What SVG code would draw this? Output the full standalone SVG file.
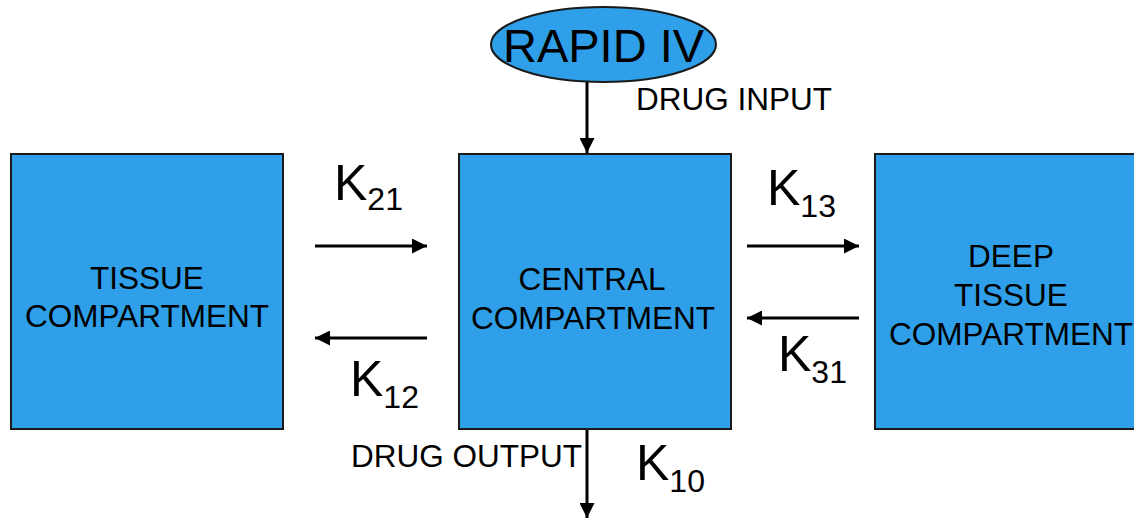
<svg xmlns="http://www.w3.org/2000/svg" width="1134" height="518" viewBox="0 0 1134 518">
<style>
.box{fill:#2E9FE8;stroke:#1a1a1a;stroke-width:2}
.t{font-family:"Liberation Sans",Arial,sans-serif;font-size:31.5px;fill:#000}
.k{font-family:"Liberation Sans",Arial,sans-serif;font-size:50px;fill:#000}
.s{font-size:32px}
.c{stroke:#000;stroke-width:3;fill:none;marker-end:url(#ah)}
</style>
<defs>
<marker id="ah" viewBox="0 0 10 10" refX="10" refY="5" markerWidth="5" markerHeight="5" markerUnits="strokeWidth" orient="auto">
<path d="M0,0 L10,5 L0,10 Z" fill="#000"/>
</marker>
</defs>
<rect width="1134" height="518" fill="#fff"/>
<g id="connectors">
<line class="c" x1="587" y1="82" x2="587" y2="153"/>
<line class="c" x1="315" y1="246" x2="427" y2="246"/>
<line class="c" x1="427" y1="338" x2="315" y2="338"/>
<line class="c" x1="747" y1="246" x2="859" y2="246"/>
<line class="c" x1="859" y1="318" x2="747" y2="318"/>
<line class="c" x1="587" y1="429" x2="587" y2="518"/>
</g>
<g id="rapid-iv">
<ellipse cx="603.5" cy="44.5" rx="112.5" ry="37.5" class="box"/>
<text class="t" x="603.5" y="61.5" text-anchor="middle" style="font-size:47px">RAPID IV</text>
</g>
<g id="tissue">
<rect class="box" x="11" y="154" width="272" height="275"/>
<text class="t" x="147" y="288.5" text-anchor="middle">TISSUE</text>
<text class="t" x="147" y="327" text-anchor="middle">COMPARTMENT</text>
</g>
<g id="central">
<rect class="box" x="459" y="154" width="272" height="275"/>
<text class="t" x="592" y="289.5" text-anchor="middle">CENTRAL</text>
<text class="t" x="593" y="328.5" text-anchor="middle">COMPARTMENT</text>
</g>
<g id="deep">
<rect class="box" x="875" y="154" width="272" height="275"/>
<text class="t" x="1011" y="267" text-anchor="middle">DEEP</text>
<text class="t" x="1011" y="306" text-anchor="middle">TISSUE</text>
<text class="t" x="1011" y="344.5" text-anchor="middle">COMPARTMENT</text>
</g>
<g id="labels">
<text class="t" x="636" y="110">DRUG INPUT</text>
<text class="t" x="351" y="467">DRUG OUTPUT</text>
<text class="k" x="334" y="200">K<tspan class="s" dy="10">21</tspan></text>
<text class="k" x="350" y="396">K<tspan class="s" dy="12">12</tspan></text>
<text class="k" x="767" y="205">K<tspan class="s" dy="12">13</tspan></text>
<text class="k" x="778" y="371">K<tspan class="s" dy="12">31</tspan></text>
<text class="k" x="636" y="480">K<tspan class="s" dy="12">10</tspan></text>
</g>
</svg>
